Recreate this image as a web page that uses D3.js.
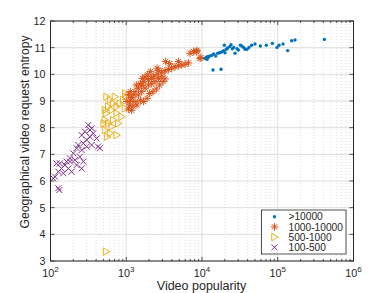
<!DOCTYPE html>
<meta charset="utf-8">
<script src="https://d3js.org/d3.v7.min.js"></script>
<style>
  body { margin: 0; background: #fff; }
  text { font-family: "Liberation Sans", Arial, sans-serif; fill: #262626; }
</style>
<body>
<div id="chart"></div>
<script>
// data: [popularity, entropy]
var bigViews = [[10965,10.60],[11400,10.64],[11880,10.66],[12620,10.69],[13430,10.71],[14260,10.76],
  [15170,10.69],[16110,10.79],[17110,10.81],[18200,10.84],[19320,10.89],[20130,10.81],[19720,11.09],
  [20960,10.94],[21830,10.99],[23190,11.04],[24150,11.11],[25140,10.96],[26180,11.01],[27270,10.79],
  [28970,10.96],[30170,10.91],[32060,11.09],[33410,11.06],[35490,11.01],[36970,10.94],[39290,10.94],
  [41750,11.01],[45260,11.09],[50120,11.14],[58910,11.06],[70680,11.09],[84850,11.16],[97780,11.01],
  [103900,11.09],[117300,11.14],[135200,10.89],[152700,11.26],[169000,11.29],[412100,11.31],
  [13970,10.16],[17830,10.19],[11640,10.56],[12130,10.64]];

var midViews = [[7762,10.85],[8590,10.90],[9700,10.63],[6607,10.43],[5970,10.38],[5395,10.35],
  [4875,10.33],[4405,10.28],[3981,10.23],[3597,10.18],[3311,10.48],[3251,10.13],[2938,10.08],
  [2655,10.15],[2548,10.00],[2302,9.93],[2168,9.85],[1959,9.80],[1770,9.90],[1698,9.73],[1600,9.58],
  [1535,9.65],[1445,9.48],[1358,9.60],[1306,9.35],[1253,9.23],[1180,9.13],[1133,9.03],[1109,8.85],
  [1066,8.70],[1180,8.65],[1306,8.98],[1445,9.23],[1600,9.35],[1770,9.48],[1959,9.60],[2168,9.65],
  [2399,9.73],[2655,9.85],[2938,9.93],[3251,9.83],[3055,9.73],[2761,9.60],[2495,9.45],[2255,9.35],
  [2037,9.28],[1879,9.10],[1698,8.98],[1535,9.03],[1387,8.85],[1228,8.80],[1066,9.23],[1023,8.98],
  [1133,9.35],[4875,10.48],[3741,10.40],[2548,10.23],[2080,10.10],[1919,9.98],[1630,9.85],
  [9420,10.60],[8510,10.85],[6950,10.79]];

var lowViews = [[551,9.16],[611,9.04],[675,8.91],[580,8.79],[525,8.66],[643,8.66],[747,8.79],
  [826,8.91],[916,9.04],[985,9.16],[975,9.29],[747,8.54],[869,8.41],[675,8.29],[580,8.16],
  [525,8.29],[786,8.16],[643,8.04],[525,7.91],[611,7.79],[747,7.72],[541,8.54],[964,8.72],
  [505,8.16],[710,9.16],[541,3.35],[560,7.66]];

var fewViews = [[316,8.10],[349,7.98],[285,7.85],[258,7.72],[367,7.79],[332,7.66],[300,7.54],
  [406,7.60],[450,7.23],[271,7.41],[233,7.35],[221,7.23],[258,7.16],[300,7.29],[349,7.35],
  [200,7.04],[181,6.85],[210,6.79],[245,6.91],[163,6.73],[155,6.60],[140,6.47],[127,6.35],
  [120,6.66],[133,6.66],[172,6.47],[190,6.35],[258,6.47],[115,6.16],[109,6.10],[148,6.29],
  [127,5.73],[131,5.66],[332,7.91],[181,6.73],[221,6.60],[271,6.73],[424,7.29]];

var seriesNames = [">10000", "1000-10000", "500-1000", "100-500"];
var yTicks = [3, 4, 5, 6, 7, 8, 9, 10, 11, 12];
var xTicks = [1e2, 1e3, 1e4, 1e5, 1e6];

var W = 390, H = 293;
var margin = { top: 21, right: 36.5, bottom: 32, left: 50.5 };
var width = W - margin.left - margin.right,
    height = H - margin.top - margin.bottom;

var svg = d3.select("#chart").append("svg")
    .attr("width", W).attr("height", H);
var g = svg.append("g")
    .attr("transform", "translate(" + margin.left + "," + margin.top + ")");

var x = d3.scaleLog().domain([1e2, 1e6]).range([0, width]);
var y = d3.scaleLinear().domain([3, 12]).range([height, 0]);

// minor ticks for the log axis
var minorTicks = [];
[1e2, 1e3, 1e4, 1e5].forEach(function(d) {
  for (var k = 2; k <= 9; k++) minorTicks.push(d * k);
});

// grid
g.append("g").selectAll("line.minor").data(minorTicks).enter().append("line")
    .attr("x1", d => x(d)).attr("x2", d => x(d))
    .attr("y1", 0).attr("y2", height)
    .attr("stroke", "#d4d4d4").attr("stroke-width", 0.8)
    .attr("stroke-dasharray", "1,2");
g.append("g").selectAll("line.xmaj").data(xTicks).enter().append("line")
    .attr("x1", d => x(d)).attr("x2", d => x(d))
    .attr("y1", 0).attr("y2", height)
    .attr("stroke", "#dedede").attr("stroke-width", 1);
g.append("g").selectAll("line.ymaj").data(yTicks).enter().append("line")
    .attr("x1", 0).attr("x2", width)
    .attr("y1", d => y(d)).attr("y2", d => y(d))
    .attr("stroke", "#dedede").attr("stroke-width", 1);

// markers
var colors = ["#0072BD", "#D95319", "#EDB120", "#7E2F8E"];

function star(sel, c) {
  var r = 3.8;
  [0, 45, 90, 135].forEach(function(a) {
    var t = a * Math.PI / 180;
    sel.append("line")
      .attr("x1", -r * Math.cos(t)).attr("y1", -r * Math.sin(t))
      .attr("x2", r * Math.cos(t)).attr("y2", r * Math.sin(t))
      .attr("stroke", c).attr("stroke-width", 1);
  });
}
function cross(sel, c) {
  var r = 3;
  sel.append("path")
    .attr("d", "M" + -r + "," + -r + "L" + r + "," + r + "M" + -r + "," + r + "L" + r + "," + -r)
    .attr("stroke", c).attr("stroke-width", 1).attr("fill", "none");
}
function tri(sel, c) {
  sel.append("path")
    .attr("d", "M-2.8,-3.7L3.7,0L-2.8,3.7Z")
    .attr("stroke", c).attr("stroke-width", 1).attr("fill", "none");
}
function dot(sel, c) {
  sel.append("circle").attr("r", 1.7).attr("fill", c);
}

function drawSeries(data, fn, c) {
  g.append("g").selectAll("g").data(data).enter().append("g")
    .attr("transform", d => "translate(" + x(d[0]) + "," + y(d[1]) + ")")
    .each(function() { fn(d3.select(this), c); });
}
drawSeries(fewViews, cross, colors[3]);
drawSeries(lowViews, tri, colors[2]);
drawSeries(midViews, star, colors[1]);
drawSeries(bigViews, dot, colors[0]);

// box
g.append("rect").attr("width", width).attr("height", height)
    .attr("fill", "none").attr("stroke", "#262626").attr("stroke-width", 1);

// ticks (inward, both sides)
var tk = g.append("g").attr("stroke", "#262626").attr("stroke-width", 0.8);
yTicks.forEach(function(d) {
  tk.append("line").attr("x1", 0).attr("x2", 4).attr("y1", y(d)).attr("y2", y(d));
  tk.append("line").attr("x1", width).attr("x2", width - 4).attr("y1", y(d)).attr("y2", y(d));
});
xTicks.forEach(function(d) {
  tk.append("line").attr("x1", x(d)).attr("x2", x(d)).attr("y1", height).attr("y2", height - 4);
  tk.append("line").attr("x1", x(d)).attr("x2", x(d)).attr("y1", 0).attr("y2", 4);
});
minorTicks.forEach(function(d) {
  tk.append("line").attr("x1", x(d)).attr("x2", x(d)).attr("y1", height).attr("y2", height - 2);
  tk.append("line").attr("x1", x(d)).attr("x2", x(d)).attr("y1", 0).attr("y2", 2);
});

// tick labels
g.append("g").selectAll("text").data(yTicks).enter().append("text")
    .attr("x", -5).attr("y", d => y(d)).attr("dy", "0.36em")
    .attr("text-anchor", "end").attr("font-size", 10.7)
    .text(d => d);
var xl = g.append("g").selectAll("text").data(xTicks).enter().append("text")
    .attr("x", d => x(d)).attr("y", height + 15.7)
    .attr("text-anchor", "middle").attr("font-size", 10.8);
xl.append("tspan").text("10");
xl.append("tspan").attr("dy", -4.4).attr("font-size", 8).text(d => Math.round(Math.log10(d)));

// axis titles
g.append("text").attr("x", (201.5 - margin.left)).attr("y", height + 28.5)
    .attr("text-anchor", "middle").attr("font-size", 12.5)
    .text("Video popularity");
g.append("text")
    .attr("transform", "translate(" + -21.3 + "," + 111 + ") rotate(-90)")
    .attr("text-anchor", "middle").attr("font-size", 12.2)
    .text("Geographical video request entropy");

// legend
var lg = g.append("g").attr("transform", "translate(" + (261.5 - margin.left) + "," + (210 - margin.top) + ")");
lg.append("rect").attr("width", 84.5).attr("height", 44)
    .attr("fill", "#fff").attr("stroke", "#262626").attr("stroke-width", 0.8);
var fns = [dot, star, tri, cross];
seriesNames.forEach(function(name, i) {
  var row = lg.append("g").attr("transform", "translate(13," + (6.7 + i * 10.2) + ")");
  fns[i](row, colors[i]);
  row.append("text").attr("x", 14).attr("dy", "0.36em").attr("font-size", 10.2).text(name);
});
</script>
</body>
